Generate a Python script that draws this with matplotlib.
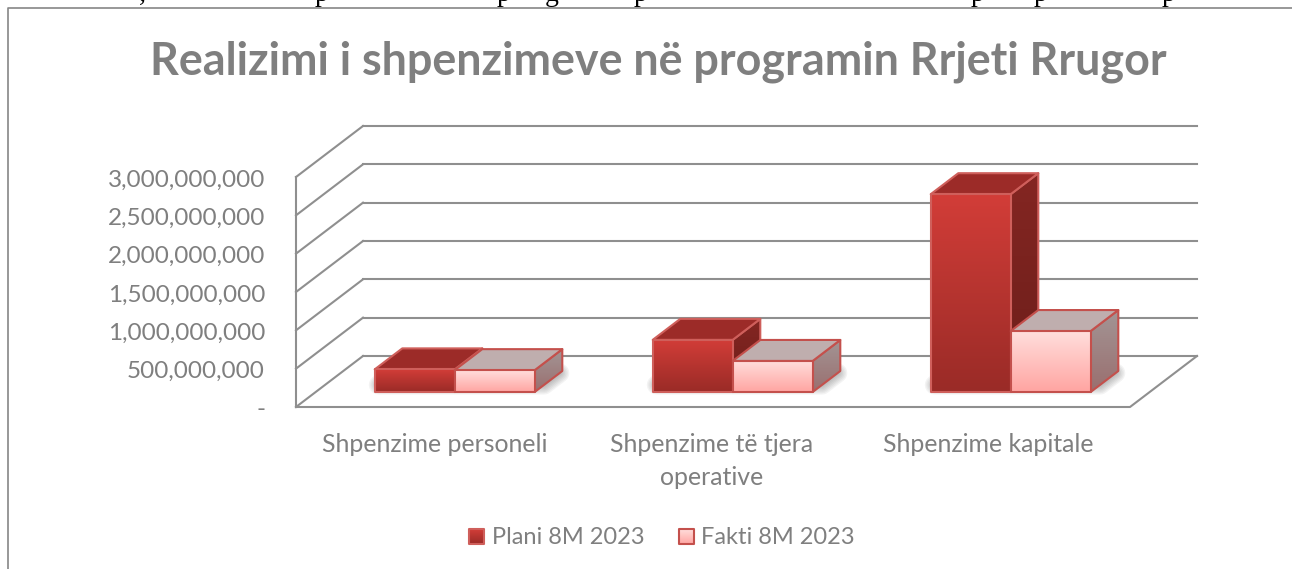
import matplotlib
matplotlib.use('Agg')
import matplotlib.pyplot as plt
import numpy as np
from matplotlib.colors import to_rgb
from matplotlib.patches import Polygon

# te dhenat
categories = ['Shpenzime personeli', 'Shpenzime të tjera\noperative', 'Shpenzime kapitale']
plani = [295000000, 680000000, 2580000000]
fakti = [285000000, 405000000, 795000000]
series_names = ['Plani 8M 2023', 'Fakti 8M 2023']
ticks = [0, 500000000, 1000000000, 1500000000, 2000000000, 2500000000, 3000000000]
title = 'Realizimi i shpenzimeve në programin Rrjeti Rrugor'
# vetem bishtat e shkronjave te rreshtit te faqes duken mbi grafik
page_glyphs = [(139, ','), (315, 'p'), (497, 'p'), (545, 'g'), (634, 'p'), (971, 'p'), (1034, 'p'), (1162, 'p')]

plt.rcParams['font.family'] = ['Lato', 'DejaVu Sans']
GREY = '#7f7f7f'
LINE = '#8f8f8f'

W, H = 1292, 569
fig = plt.figure(figsize=(W / 100, H / 100), dpi=100)
ax = fig.add_axes([0, 0, 1, 1])
ax.axis('off')

# shkalla: 278 px per kategori, 230 px per 3 miliarde
px_cat = 278.0
px_val = 3e9 / 230.0
x0, y0 = 296, 407
xlim = (-x0 / px_cat, (W - x0) / px_cat)
ylim = (-(H - y0) * px_val, y0 * px_val)
# zhvendosja per thellesine (oblique)
dx = 67 / px_cat
dy = 51 * px_val


def proj(x, d, v):
    return x + d * dx, v + d * dy


def grad_poly(verts, c_top, c_bot, edge='#c0504d', lw=1.5, zorder=3):
    verts = np.array(verts)
    g = np.linspace(0, 1, 64)[:, None, None]
    img = (1 - g) * np.array(to_rgb(c_top)) + g * np.array(to_rgb(c_bot))
    left, right = verts[:, 0].min(), verts[:, 0].max()
    bot, top = verts[:, 1].min(), verts[:, 1].max()
    im = ax.imshow(img, extent=[left, right, bot, top], aspect='auto', origin='upper',
                   interpolation='bilinear', zorder=zorder)
    p = Polygon(verts, closed=True, fc='none', ec=edge, lw=lw, joinstyle='round', zorder=zorder)
    ax.add_patch(p)
    im.set_clip_path(p)


def shadow(x_a, x_b, d_a, d_b):
    # hija e bute mbi dysheme
    pts = [proj(x_a - 0.02, d_a + 0.14, 0), proj(x_b, d_a + 0.14, 0),
           proj(x_b, d_b - 0.04, 0), proj(x_a - 0.02, d_b - 0.04, 0)]
    for lw in [14, 12, 10, 8, 6, 4, 2]:
        ax.add_patch(Polygon(pts, closed=True, fc='#404040', ec='#404040', lw=lw, alpha=0.06,
                             joinstyle='round', zorder=2))


def bar_3d(x_a, x_b, d_a, d_b, val, front, side, top, edge):
    side_v = [proj(x_b, d_a, 0), proj(x_b, d_b, 0), proj(x_b, d_b, val), proj(x_b, d_a, val)]
    top_v = [proj(x_a, d_a, val), proj(x_b, d_a, val), proj(x_b, d_b, val), proj(x_a, d_b, val)]
    front_v = [proj(x_a, d_a, 0), proj(x_b, d_a, 0), proj(x_b, d_a, val), proj(x_a, d_a, val)]
    grad_poly(side_v, side[0], side[1], edge=edge)
    ax.add_patch(Polygon(top_v, closed=True, fc=top, ec=edge, lw=1.5, joinstyle='round', zorder=3))
    grad_poly(front_v, front[0], front[1], edge=edge)


# dyshemeja dhe muret
for v in ticks:
    ax.plot(*zip(proj(0, 1, v), proj(3, 1, v)), color=LINE, lw=1.5, zorder=1)
    ax.plot(*zip(proj(0, 0, v), proj(0, 1, v)), color=LINE, lw=1.5, zorder=1)
ax.plot(*zip(proj(0, 0, 0), proj(0, 0, ticks[-1])), color=LINE, lw=1.5, zorder=1)
ax.plot(*zip(proj(0, 0, 0), proj(3, 0, 0), proj(3, 1, 0)), color=LINE, lw=1.5, zorder=1)

# shtyllat
bw = 80 / px_cat
d_a, d_b = 15 / 51, 36 / 51
plan_style = dict(front=('#d23d38', '#9a2b27'), side=('#842622', '#6c1e1a'), top='#9c2b28', edge='#cf5f5b')
fakt_style = dict(front=('#ffdedc', '#ffa5a2'), side=('#a39595', '#9a6f6f'), top='#bfaeae', edge='#c4504c')
for i in range(len(categories)):
    cx = i + 0.5
    shadow(cx - bw, cx + bw, d_a, d_b)
for i, name in enumerate(categories):
    cx = i + 0.5
    bar_3d(cx - bw, cx, d_a, d_b, plani[i], **plan_style)
    bar_3d(cx, cx + bw, d_a, d_b, fakti[i], **fakt_style)
    y_label = -54 * px_val if '\n' in name else -38 * px_val
    ax.text(cx - 1.2 * i / px_cat - 0.5 / px_cat, y_label, name, ha='center', va='center', fontsize=17.9,
            color=GREY, linespacing=1.5, zorder=5)

# etiketat e boshtit
for v in ticks:
    label = f'{v:,}' if v else '-'
    ax.text(-31 / px_cat, v - 3 * px_val, label, ha='right', va='center', fontsize=17.5, color=GREY)

ax.text((658.5 - x0) / px_cat, (y0 - 62) * px_val, title, ha='center', va='center', fontsize=32.3,
        fontweight='bold', color=GREY)

# legjenda
for name, style, sx, tx in [(series_names[0], plan_style, 469, 492), (series_names[1], fakt_style, 679, 701)]:
    sq = [((sx - x0) / px_cat, (y0 - 544) * px_val), ((sx + 15 - x0) / px_cat, (y0 - 544) * px_val),
          ((sx + 15 - x0) / px_cat, (y0 - 529) * px_val), ((sx - x0) / px_cat, (y0 - 529) * px_val)]
    grad_poly(sq, style['front'][0], style['front'][1], edge=style['edge'], lw=1.5, zorder=4)
    ax.text((tx - x0) / px_cat, (y0 - 537) * px_val, name, ha='left', va='center', fontsize=17.05, color=GREY)

# korniza e grafikut
ax.plot([(8 - x0) / px_cat, (8 - x0) / px_cat, xlim[1]],
        [ylim[0], (y0 - 8) * px_val, (y0 - 8) * px_val], color='#868686', lw=1.2, zorder=6)
# tekst i faqes i prere nga kufiri lart
for gx, glyph in page_glyphs:
    ax.text((gx - x0) / px_cat, (y0 - 1) * px_val, glyph, ha='left', va='baseline', fontsize=20,
            family=['Liberation Serif'], color='black', clip_on=True, zorder=0)

ax.set_xlim(*xlim)
ax.set_ylim(*ylim)
fig.savefig('out.png', dpi=100)
